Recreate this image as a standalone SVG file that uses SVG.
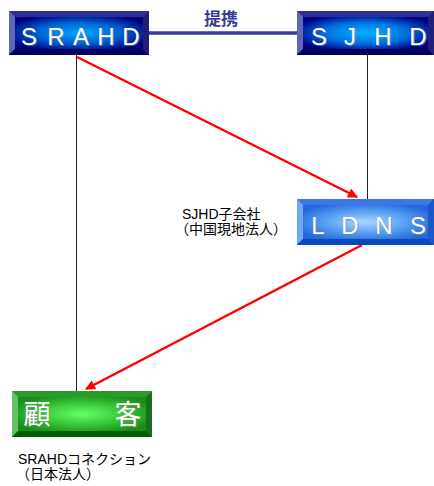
<svg xmlns="http://www.w3.org/2000/svg" width="434" height="486" viewBox="0 0 434 486">
<defs>
<style>
.lt{font-family:"Liberation Sans","DejaVu Sans",sans-serif;font-size:24px;fill:#ffffff;text-anchor:middle}
.sh{font-family:"Liberation Sans","DejaVu Sans",sans-serif;font-size:24px;fill:#808080;text-anchor:middle;opacity:0.7}
.cj{font-family:"Noto Sans CJK JP",sans-serif;font-size:27px;fill:#ffffff;text-anchor:middle}
.cjs{font-family:"Noto Sans CJK JP",sans-serif;font-size:27px;fill:#888888;text-anchor:middle;opacity:0.6}
.lbl{font-family:"Liberation Sans","Noto Sans CJK JP",sans-serif;font-size:14px;fill:#000000}
.thin{stroke:#222222;stroke-width:1;fill:none}
.red{stroke:#ff0000;stroke-width:2.5;fill:none}
</style>
<radialGradient id="gNavy" cx="0.5" cy="0.5" r="0.6">
<stop offset="0" stop-color="#00a8ff"/><stop offset="0.55" stop-color="#0060d0"/><stop offset="1" stop-color="#000080"/>
</radialGradient>
<radialGradient id="gNavy2" cx="0.5" cy="0.5" r="0.6">
<stop offset="0" stop-color="#00b4ff"/><stop offset="0.55" stop-color="#0070e0"/><stop offset="1" stop-color="#000080"/>
</radialGradient>
<radialGradient id="gBlue" cx="0.5" cy="0.5" r="0.6">
<stop offset="0" stop-color="#a8d8ff"/><stop offset="0.6" stop-color="#5098f0"/><stop offset="1" stop-color="#2468dc"/>
</radialGradient>
<radialGradient id="gGreen" cx="0.5" cy="0.5" r="0.6">
<stop offset="0" stop-color="#66ff66"/><stop offset="0.6" stop-color="#33c033"/><stop offset="1" stop-color="#1a8c1a"/>
</radialGradient>
<marker id="ah" viewBox="0 0 10 10" refX="9" refY="5" markerWidth="4.4" markerHeight="4" orient="auto" markerUnits="strokeWidth">
<path d="M0,0 L10,5 L0,10 z" fill="#ff0000"/>
</marker>
</defs>
<rect width="434" height="486" fill="#ffffff"/>

<g id="connectors">
<line class="thin" x1="76.5" y1="55" x2="76.5" y2="391"/>
<line class="thin" x1="367.5" y1="55" x2="367.5" y2="199"/>
<line x1="148" y1="33" x2="298" y2="33" stroke="#3a3a98" stroke-width="3.5"/>
<line class="red" x1="77" y1="57" x2="357" y2="197" marker-end="url(#ah)"/>
<line class="red" x1="362" y1="245" x2="86" y2="389" marker-end="url(#ah)"/>
<text x="221" y="25" font-family="'Noto Sans CJK JP',sans-serif" font-size="17" font-weight="bold" fill="#3a3a90" text-anchor="middle">提携</text>
</g>

<g id="SRAHD">
<rect x="9" y="11" width="140" height="44" fill="#30309a"/>
<polygon points="9,11 15,17 15,49 9,55" fill="#6464b4"/>
<polygon points="149,11 143,17 143,49 149,55" fill="#202078"/>
<polygon points="9,55 15,49 143,49 149,55" fill="#000060"/>
<rect x="15" y="17" width="128" height="32" fill="url(#gNavy)"/>
<g class="sh"><text x="30" y="46">S</text><text x="57" y="46">R</text><text x="82" y="46">A</text><text x="107" y="46">H</text><text x="132" y="46">D</text></g>
<g class="lt"><text x="29" y="45">S</text><text x="56" y="45">R</text><text x="81" y="45">A</text><text x="106" y="45">H</text><text x="131" y="45">D</text></g>
</g>

<g id="SJHD">
<rect x="297" y="11" width="137" height="44" fill="#30309a"/>
<polygon points="297,11 303,17 303,49 297,55" fill="#6464b4"/>
<polygon points="434,11 428,17 428,49 434,55" fill="#202078"/>
<polygon points="297,55 303,49 428,49 434,55" fill="#000060"/>
<rect x="303" y="17" width="125" height="32" fill="url(#gNavy2)"/>
<g class="sh"><text x="320" y="46">S</text><text x="351" y="46">J</text><text x="384" y="46">H</text><text x="419" y="46">D</text></g>
<g class="lt"><text x="319" y="45">S</text><text x="350" y="45">J</text><text x="383" y="45">H</text><text x="418" y="45">D</text></g>
</g>

<g id="LDNS">
<rect x="297" y="199" width="137" height="46" fill="#3a78e8"/>
<polygon points="297,199 303,205 303,239 297,245" fill="#70a8f8"/>
<polygon points="434,199 428,205 428,239 434,245" fill="#1858c8"/>
<polygon points="297,245 303,239 428,239 434,245" fill="#0a48c0"/>
<rect x="303" y="205" width="125" height="34" fill="url(#gBlue)"/>
<g class="sh"><text x="319" y="235">L</text><text x="351" y="235">D</text><text x="385" y="235">N</text><text x="419" y="235">S</text></g>
<g class="lt"><text x="318" y="234">L</text><text x="350" y="234">D</text><text x="384" y="234">N</text><text x="418" y="234">S</text></g>
</g>

<g id="client">
<rect x="12" y="391" width="140" height="46" fill="#2a9a2a"/>
<polygon points="12,391 18,397 18,431 12,437" fill="#66c066"/>
<polygon points="152,391 146,397 146,431 152,437" fill="#1a701a"/>
<polygon points="12,437 18,431 146,431 152,437" fill="#006000"/>
<rect x="18" y="397" width="128" height="34" fill="url(#gGreen)"/>
<text class="cjs" x="38" y="425">顧</text><text class="cjs" x="129" y="425">客</text>
<text class="cj" x="37" y="424">顧</text><text class="cj" x="128" y="424">客</text>
</g>

<g id="labels">
<text class="lbl" x="182" y="219">SJHD子会社</text>
<text class="lbl" x="175" y="234">（中国現地法人）</text>
<text class="lbl" x="18" y="464">SRAHDコネクション</text>
<text class="lbl" x="16" y="479">（日本法人）</text>
</g>
</svg>
